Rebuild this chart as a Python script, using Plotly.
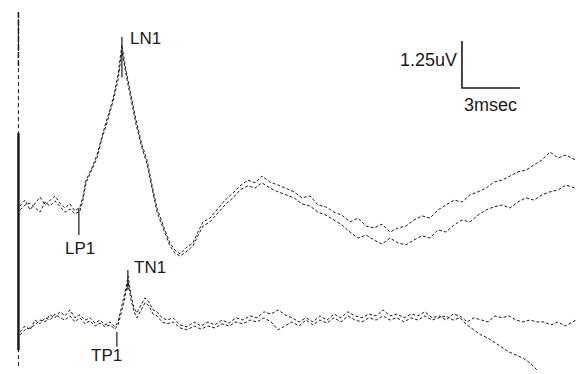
import plotly.graph_objects as go
import numpy as np

# ---------------- data (time in ms, amplitude in uV) ----------------
# Upper pair of traces (L recordings)
time_L = [0.00, 0.26, 0.52, 0.78, 1.04, 1.30, 1.55, 1.81, 2.07, 2.33,
          2.59, 2.85, 3.11, 3.26, 3.42, 3.68, 3.99, 4.25, 4.46, 4.66,
          4.87, 5.08, 5.18, 5.28, 5.49, 5.70, 6.01, 6.32, 6.58, 6.84,
          7.10, 7.41, 7.77, 8.03, 8.29, 8.60, 8.96, 9.22, 9.48, 9.84,
          10.21, 10.62, 11.04, 11.40, 11.81, 12.18, 12.54, 12.95, 13.37, 13.78,
          14.20, 14.61, 15.03, 15.44, 15.85, 16.27, 16.68, 17.10, 17.51, 17.93,
          18.34, 18.76, 19.17, 19.59, 20.00, 20.41, 20.83, 21.24, 21.66, 22.07,
          22.49, 22.90, 23.32, 23.73, 24.15, 24.56, 24.97, 25.39, 25.80, 26.22,
          26.63, 27.05, 27.46, 27.88, 28.29, 28.76]
trace_L1 = [-0.03, 0.13, -0.13, 0.05, 0.21, 0.00, 0.13, 0.24, 0.05, -0.08,
            0.03, -0.16, -0.05, 0.21, 0.66, 0.93, 1.33, 1.86, 2.21, 2.53,
            2.93, 3.46, 3.86, 4.26, 3.59, 3.01, 2.26, 1.60, 1.20, 0.53,
            -0.08, -0.53, -1.01, -1.20, -1.30, -1.14, -1.01, -0.72, -0.45, -0.35,
            -0.13, 0.13, 0.32, 0.51, 0.66, 0.59, 0.77, 0.61, 0.53, 0.45,
            0.35, 0.19, 0.24, 0.00, -0.05, -0.19, -0.27, -0.45, -0.35, -0.56,
            -0.61, -0.51, -0.72, -0.61, -0.56, -0.40, -0.29, -0.35, -0.13, 0.00,
            0.13, 0.08, 0.27, 0.35, 0.45, 0.61, 0.66, 0.77, 0.88, 0.93,
            1.06, 1.20, 1.41, 1.25, 1.33, 1.20]
trace_L2 = [-0.13, 0.00, 0.05, -0.08, -0.19, 0.08, -0.03, 0.11, -0.05, -0.19,
            -0.11, -0.24, -0.16, 0.13, 0.59, 0.88, 1.25, 1.78, 2.10, 2.47,
            2.85, 3.32, 3.72, 4.12, 3.48, 2.93, 2.15, 1.52, 1.09, 0.45,
            -0.19, -0.61, -1.09, -1.28, -1.36, -1.25, -1.09, -0.82, -0.56, -0.45,
            -0.24, 0.00, 0.19, 0.40, 0.51, 0.45, 0.59, 0.45, 0.35, 0.27,
            0.19, 0.03, -0.03, -0.19, -0.27, -0.40, -0.53, -0.72, -0.88, -0.80,
            -0.93, -1.04, -0.88, -1.01, -1.06, -0.93, -0.82, -0.88, -0.66, -0.72,
            -0.53, -0.40, -0.45, -0.27, -0.13, -0.05, 0.00, -0.08, 0.08, 0.19,
            0.13, 0.27, 0.35, 0.40, 0.53, 0.45]

# Lower pair of traces (T recordings), relative to their own baseline
time_T = [0.00, 0.26, 0.52, 0.78, 1.04, 1.30, 1.55, 1.81, 2.07, 2.33,
          2.59, 2.85, 3.11, 3.37, 3.63, 3.89, 4.15, 4.40, 4.66, 4.92,
          5.08, 5.23, 5.39, 5.49, 5.60, 5.75, 5.91, 6.06, 6.27, 6.48,
          6.68, 6.89, 7.10, 7.36, 7.62, 7.93, 8.29, 8.65, 9.02, 9.38,
          9.74, 10.10, 10.47, 10.83, 11.19, 11.55, 11.92, 12.28, 12.64, 13.01,
          13.37, 13.73, 14.09, 14.46, 14.82, 15.18, 15.54, 15.91, 16.27, 16.63,
          16.99, 17.36, 17.72, 18.08, 18.45, 18.81, 19.17, 19.53, 19.90, 20.26,
          20.62, 20.98, 21.35, 21.71, 22.07, 22.44, 22.80, 23.16, 23.52, 23.89,
          24.25, 24.61, 24.97, 25.34, 25.70, 26.06, 26.42, 26.79, 27.15, 27.51,
          27.88, 28.24, 28.60, 28.81]
trace_T1 = [-0.35, -0.21, -0.16, -0.08, 0.05, 0.00, 0.19, 0.11, 0.27, 0.16,
            0.32, 0.11, 0.19, 0.05, 0.11, -0.03, 0.05, -0.08, 0.00, -0.13,
            0.00, 0.32, 0.64, 0.90, 1.22, 0.72, 0.37, 0.24, 0.45, 0.64,
            0.53, 0.32, 0.27, 0.11, 0.05, 0.11, -0.08, -0.13, 0.00, -0.11,
            0.00, -0.08, 0.05, -0.03, 0.11, 0.05, 0.16, 0.11, 0.27, 0.21,
            0.32, 0.19, 0.11, 0.00, 0.11, 0.00, 0.16, 0.05, 0.21, 0.11,
            0.27, 0.16, 0.11, 0.21, 0.16, 0.32, 0.16, 0.21, 0.11, 0.21,
            0.16, 0.27, 0.11, 0.16, 0.05, 0.21, 0.16, 0.00, 0.11, 0.05,
            0.00, 0.16, 0.11, 0.16, 0.05, 0.00, 0.05, 0.00, 0.00, -0.08,
            0.00, -0.11, 0.00, 0.05]
trace_T2 = [-0.27, -0.11, -0.21, 0.05, -0.05, 0.11, 0.05, 0.21, 0.11, 0.05,
            0.16, 0.00, 0.11, -0.05, 0.03, -0.11, -0.03, -0.13, -0.08, -0.19,
            -0.08, 0.21, 0.53, 0.80, 1.06, 0.59, 0.27, 0.11, 0.32, 0.51,
            0.43, 0.21, 0.16, 0.00, -0.05, 0.00, -0.16, -0.21, -0.11, -0.19,
            -0.11, -0.16, -0.05, -0.11, 0.00, -0.05, 0.05, 0.00, 0.11, 0.00,
            -0.21, -0.11, 0.00, -0.11, 0.05, -0.08, 0.05, -0.03, 0.11, 0.00,
            0.16, 0.05, 0.00, 0.11, 0.05, 0.16, 0.05, 0.11, 0.00, 0.11,
            0.05, 0.16, 0.05, 0.11, 0.16, 0.05, 0.11, -0.08, -0.21, -0.35,
            -0.43, -0.56, -0.69, -0.80, -0.88, -0.96, -1.09, -1.28]

# stimulus artifact (vertical line at stimulus onset)
artifact_t = [-0.08, -0.08]
artifact_v = [5.13, -4.31]
artifact_core_v = [1.91, -3.86]
artifact_top_v = [5.13, 3.67]

# peak labels: name, latency (ms), tick top/bottom (uV, in the trace's own frame), trace pair
peak_names = ["LN1", "LP1", "TN1", "TP1"]
peak_times = [5.28, 3.05, 5.59, 5.02]
peak_tick_top = [4.47, -0.08, 1.38, -0.27]
peak_tick_bottom = [3.40, -0.80, 0.85, -0.66]
peak_pair = ["L", "L", "T", "T"]

# calibration bar
cal_amp_uV = 1.25
cal_time_ms = 3.0
cal_labels = ["1.25uV", "3msec"]

# ---------------- layout constants ----------------
T_OFFSET = -3.11          # vertical offset of the lower pair
X_RANGE = [-1.036, 28.86]
Y_RANGE = [-4.495, 5.452]
CAL_T0, CAL_V0 = 22.90, 3.11
INK = "#1a1a1a"
FONT = "Liberation Sans, Arial, sans-serif"

offset = {"L": 0.0, "T": T_OFFSET}

fig = go.Figure()

# artifact
fig.add_trace(go.Scatter(x=artifact_t, y=artifact_v, mode="lines",
                         line=dict(color=INK, width=1, dash="4px,3px"), hoverinfo="skip"))
fig.add_trace(go.Scatter(x=artifact_t, y=artifact_top_v, mode="lines",
                         line=dict(color=INK, width=1.5, dash="6px,2px"), hoverinfo="skip"))
fig.add_trace(go.Scatter(x=artifact_t, y=artifact_core_v, mode="lines",
                         line=dict(color=INK, width=2.5), hoverinfo="skip"))

# traces
for t, v, off in [(time_L, trace_L1, 0.0), (time_L, trace_L2, 0.0),
                  (time_T, trace_T1, T_OFFSET), (time_T, trace_T2, T_OFFSET)]:
    fig.add_trace(go.Scatter(x=t, y=[a + off for a in v], mode="lines",
                             line=dict(color=INK, width=1, dash="3px,2px"),
                             hoverinfo="skip"))

# peak ticks and labels
label_pos = {
    "LN1": dict(dt=0.30, dv=-0.05, xanchor="left", yanchor="middle"),
    "LP1": dict(dt=0.05, dv=-0.35, xanchor="center", yanchor="middle"),
    "TN1": dict(dt=0.20, dv=0.08, xanchor="left", yanchor="middle"),
    "TP1": dict(dt=-0.52, dv=-0.24, xanchor="center", yanchor="middle"),
}
for name, tm, top, bot, pair in zip(peak_names, peak_times, peak_tick_top,
                                    peak_tick_bottom, peak_pair):
    off = offset[pair]
    fig.add_trace(go.Scatter(x=[tm, tm], y=[top + off, bot + off], mode="lines",
                             line=dict(color=INK, width=1.2), hoverinfo="skip"))
    p = label_pos[name]
    anchor_v = (top if name in ("LN1", "TN1") else bot) + off
    fig.add_annotation(x=tm + p["dt"], y=anchor_v + p["dv"], text=name,
                       showarrow=False, xanchor=p["xanchor"], yanchor=p["yanchor"],
                       font=dict(family=FONT, size=17, color=INK))

# calibration bar
fig.add_trace(go.Scatter(x=[CAL_T0, CAL_T0, CAL_T0 + cal_time_ms],
                         y=[CAL_V0 + cal_amp_uV, CAL_V0, CAL_V0],
                         mode="lines", line=dict(color=INK, width=1.6), hoverinfo="skip"))
fig.add_annotation(x=CAL_T0 - 0.15, y=CAL_V0 + cal_amp_uV * 0.6, text=cal_labels[0],
                   showarrow=False, xanchor="right", yanchor="middle",
                   font=dict(family=FONT, size=18, color=INK))
fig.add_annotation(x=CAL_T0 + cal_time_ms / 2, y=CAL_V0 - 0.12, text=cal_labels[1],
                   showarrow=False, xanchor="center", yanchor="top",
                   font=dict(family=FONT, size=18, color=INK))

fig.update_layout(
    width=577, height=374,
    margin=dict(l=0, r=0, t=0, b=0),
    paper_bgcolor="white", plot_bgcolor="white",
    showlegend=False,
    xaxis=dict(range=X_RANGE, visible=False, fixedrange=True),
    yaxis=dict(range=Y_RANGE, visible=False, fixedrange=True),
)

fig.write_html("out.html")
